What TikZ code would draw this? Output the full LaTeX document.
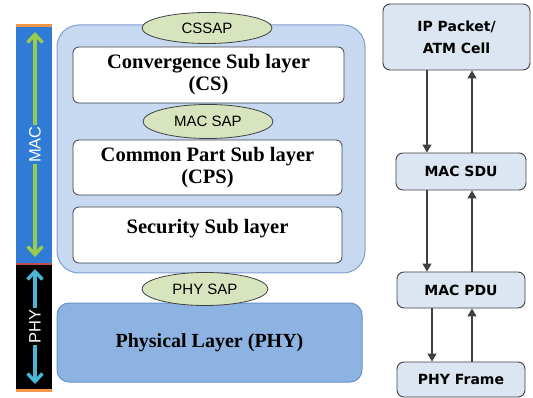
\documentclass[tikz,border=0pt]{standalone}
\usepackage{fontspec}
\setmainfont{Liberation Serif}
\newfontfamily\sapfont{Liberation Sans}
\newfontfamily\boxfont{DejaVu Sans}
\usetikzlibrary{shapes.geometric,arrows.meta,calc}

\definecolor{barblue}{HTML}{2F7BD6}
\definecolor{barorange}{HTML}{F79646}
\definecolor{barred}{HTML}{C0504D}
\definecolor{macgreen}{HTML}{9BCB4A}
\definecolor{phycyan}{HTML}{4BB5D6}
\definecolor{macfill}{HTML}{C6D9F1}
\definecolor{macedge}{HTML}{7F9FCF}
\definecolor{physfill}{HTML}{8DB3E2}
\definecolor{physedge}{HTML}{6A93C8}
\definecolor{sapfill}{HTML}{D7E4BD}
\definecolor{pktfill}{HTML}{DCE6F2}
\definecolor{edgegray}{HTML}{404040}

\tikzset{
  subbox/.style={draw=edgegray, line width=0.8pt, fill=white, rounded corners=6pt,
    inner sep=0pt, align=center, font=\fontsize{20.5}{22}\selectfont\bfseries},
  sap/.style={ellipse, draw=edgegray, line width=0.8pt, fill=sapfill, inner sep=0pt,
    font=\sapfont\fontsize{15}{17}\selectfont},
  pktbox/.style={draw=edgegray, line width=0.9pt, fill=pktfill, rounded corners=7pt,
    inner sep=0pt, align=center, font=\boxfont\fontsize{14}{22}\selectfont\bfseries},
  flow/.style={draw=edgegray, line width=1.1pt, -{Triangle[length=8pt,width=9pt]}},
  sidearrow/.style={line width=3.4pt, {Straight Barb[length=8pt,width=15pt]}-{Straight Barb[length=8pt,width=15pt]}},
  sidelabel/.style={rotate=90, text=white, inner sep=1.5pt, font=\sapfont\fontsize{16.5}{18}\selectfont},
}

\begin{document}
\begin{tikzpicture}[x=1pt, y=-1pt]
\useasboundingbox (0,0) rectangle (533,398);

% ---- side bar: MAC over PHY ----
\fill[barblue] (16,27) rectangle (52,263);
\fill[black] (16,265) rectangle (52,389);
\fill[barorange] (16,24) rectangle (52,27);
\fill[barred] (16,263) rectangle (52,265.5);
\fill[barorange] (16,389) rectangle (52,392);

\coordinate (mactop) at (35,32);
\coordinate (macbot) at (35,257);
\coordinate (phytop) at (35,269);
\coordinate (phybot) at (35,384);
\draw[sidearrow, macgreen] (mactop) -- (macbot);
\draw[sidearrow, phycyan] (phytop) -- (phybot);
\node[sidelabel, fill=barblue] (maclbl) at ($(mactop)!0.5!(macbot)$) {MAC};
\node[sidelabel, fill=black] (phylbl) at ($(phytop)!0.5!(phybot)$) {PHY};

% ---- MAC layer stack ----
\node[draw=macedge, line width=1pt, fill=macfill, rounded corners=22pt,
      minimum width=308pt, minimum height=248pt, inner sep=0pt] (mac) at (211,149) {};

\node[subbox, minimum width=271pt, minimum height=56pt] (cs) at (208.5,75)
  {Convergence Sub layer\\(CS)};
\node[subbox, minimum width=269pt, minimum height=55pt] (cps) at (207.5,167.5)
  {Common Part Sub layer\\(CPS)};
\node[subbox, minimum width=269pt, minimum height=56pt] (sec) at (207.5,235) {};
\node[font=\fontsize{20.5}{22}\selectfont\bfseries, inner sep=0pt] (sectxt)
  at ([yshift=-22pt]sec.north) {Security Sub layer};

\node[sap, minimum width=130pt, minimum height=31pt] (cssap) at (207,28) {CSSAP};
\node[sap, minimum width=130pt, minimum height=34pt] (macsap) at (208,121.5) {MAC SAP};

% ---- physical layer ----
\node[draw=physedge, line width=1pt, fill=physfill, rounded corners=12pt,
      minimum width=305pt, minimum height=79pt, inner sep=0pt,
      font=\fontsize{20}{22}\selectfont\bfseries] (phy) at (209.5,342.5)
  {Physical Layer (PHY)};
\node[sap, minimum width=126pt, minimum height=33pt] (physap) at (205,289) {PHY SAP};

% ---- data units ----
\node[pktbox, minimum width=147pt, minimum height=66pt] (ip) at (456.5,37)
  {IP Packet/\\ATM Cell};
\node[pktbox, minimum width=130pt, minimum height=37pt] (sdu) at (461,171.5) {MAC SDU};
\node[pktbox, minimum width=128pt, minimum height=36pt] (pdu) at (461,290) {MAC PDU};
\node[pktbox, minimum width=128pt, minimum height=35pt] (frame) at (461,379.5) {PHY Frame};

\coordinate (down1) at (427,0);
\coordinate (down2) at (432,0);
\coordinate (up1) at (472,0);

\draw[flow] (ip.south -| down1) -- (sdu.north -| down1);
\draw[flow] (sdu.north -| up1) -- (ip.south -| up1);
\draw[flow] (sdu.south -| down1) -- (pdu.north -| down1);
\draw[flow] (pdu.north -| up1) -- (sdu.south -| up1);
\draw[flow] (pdu.south -| down2) -- (frame.north -| down2);
\draw[flow] (frame.north -| up1) -- (pdu.south -| up1);
\end{tikzpicture}
\end{document}
